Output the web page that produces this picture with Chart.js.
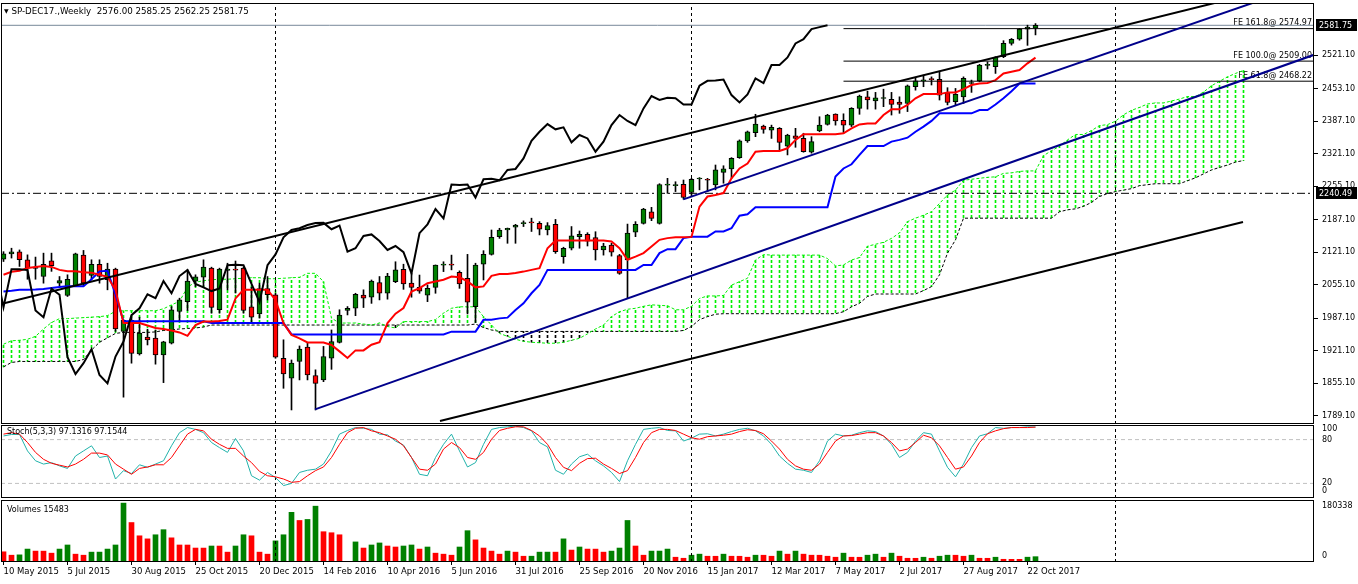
<!DOCTYPE html>
<html>
<head>
<meta charset="utf-8">
<title>SP-DEC17 Weekly</title>
<script src="https://cdn.jsdelivr.net/npm/chart.js@4.4.1/dist/chart.umd.min.js"></script>
<style>
  html, body { margin:0; padding:0; background:#fff; }
  #wrap { position:relative; width:1358px; height:584px; overflow:hidden; background:#fff; }
  #wrap canvas { position:absolute; left:0; }
  .ttl { position:absolute; font-family:'DejaVu Sans', sans-serif; font-size:8px; line-height:10px; color:#000; white-space:pre; }
</style>
</head>
<body>
<div id="wrap">
  <canvas id="cMain" width="1358" height="425" style="top:0px"></canvas>
  <canvas id="cStoch" width="1358" height="75" style="top:424px"></canvas>
  <canvas id="cVol" width="1358" height="85" style="top:499px"></canvas>
  <div class="ttl" id="tMain" style="left:4px;top:6px;font-size:8.7px"></div>
  <div class="ttl" id="tStoch" style="left:7px;top:427px"></div>
  <div class="ttl" id="tVol" style="left:7px;top:505px"></div>
</div>
<script>
// ---------------- DATA (weekly bars, index 0 = week of 10 May 2015) ----------------
const symbolName = 'SP-DEC17.,Weekly';
const dateLabels = ['10 May 2015','5 Jul 2015','30 Aug 2015','25 Oct 2015','20 Dec 2015','14 Feb 2016','10 Apr 2016','5 Jun 2016','31 Jul 2016','25 Sep 2016','20 Nov 2016','15 Jan 2017','12 Mar 2017','7 May 2017','2 Jul 2017','27 Aug 2017','22 Oct 2017'];
const dateTickIdx = [0,8,16,24,32,40,48,56,64,72,80,88,96,104,112,120,128];
const yearSepIdx = [34,86,139];
const priceTicks = [2521.10,2453.10,2387.10,2321.10,2255.10,2187.10,2121.10,2055.10,1987.10,1921.10,1855.10,1789.10];

const opens = [
2107,2117.5,2121.5,2105.5,2088,2071.5,2103.5,2058,2033,2052.5,
2115,2073.5,2096.5,2065,2086.5,1960,1982.5,1914.5,1948.5,1946.5,
1912.5,1936,2000.5,2020.5,2062,2070,2088.5,2004,2084,2086.5,
2088.5,2010,1995.5,2047,2034.5,1905.5,1865,1899,1928,1870.5,
1861.5,1905.5,1937.5,2002.5,2007,2034,2029.5,2059,2037.5,2061,
2086,2058,2049.5,2033.5,2049.5,2094.5,2095.5,2080,2068,2010.5,
2096.5,2116.5,2152.5,2166,2171.5,2179,2181,2179.5,2166,2177.5,
2112,2129,2152.5,2157,2150.5,2125.5,2135.5,2114,2105,2161.5,
2179.5,2203,2179.5,2257,2256,2259,2242.5,2269.5,2267.5,2257.5,
2283,2290,2313,2347,2363.5,2377,2369,2372.5,2336.5,2357.5,
2352,2324,2367,2380.5,2401.5,2388.5,2379,2413,2436.5,2428,
2433,2431.5,2426,2423,2457,2469,2472,2472,2445,2426.5,
2436.5,2463.5,2469,2500.5,2497.5,2518,2545,2553.5,2574,2576];
const highs = [
2122,2129,2125.5,2115.5,2111,2119,2119,2071.5,2075,2119,
2124.5,2105.5,2105.5,2098.5,2088.5,1984,1990.5,1989,1964.5,1963,
1940,2010.5,2027.5,2085,2075,2105.5,2090.5,2088.5,2098.5,2103,
2090.5,2050,2058,2071.5,2037.5,1943,1902,1930.5,1937.5,1882,
1929.5,1963,2004,2010.5,2037.5,2044.5,2064.5,2071.5,2078,2101.5,
2096.5,2078,2074.5,2054.5,2095,2101.5,2115,2083,2116.5,2098.5,
2124,2166,2169.5,2170,2177.5,2184.5,2190,2183,2181,2187.5,
2131,2173,2164,2160.5,2162.5,2139,2139,2116.5,2178,2183,
2210,2212,2260,2271,2264,2267.5,2271,2272.5,2271,2298,
2296.5,2313,2349,2367,2401,2379,2379,2374,2360.5,2372.5,
2362.5,2355.5,2396,2401,2402,2402,2414.5,2440,2448,2445.5,
2452,2445.5,2436.5,2460.5,2475,2480.5,2477,2488.5,2455,2453.5,
2477,2470.5,2502.5,2507.5,2518,2550.5,2555,2575.5,2582,2585.25];
const lows = [
2102,2109,2092,2066,2066,2058,2082,2052.5,2031,2051.5,
2052.5,2065,2058,2044.5,1960,1826.5,1895.5,1912,1932.5,1893.5,
1856,1934.5,1980,2002.5,2051,2051,1997,1997,2044.5,2038,
1997,1976,1987,2024,1905.5,1844.5,1800.5,1861.5,1861.5,1800.5,
1858,1883,1936.5,1993.5,1992,2008.5,2017,2024,2025.5,2059,
2045.5,2029.5,2037.5,2020.5,2037.5,2081.5,2085,2047.5,1995.5,1978,
2064.5,2115,2149,2139,2139,2173,2163,2156,2156,2118.5,
2098.5,2125.5,2129,2133.5,2105,2115,2113,2076,2027.5,2152.5,
2178,2185,2178,2240.5,2244,2228.5,2234,2247.5,2244,2247.5,
2261,2271,2311.5,2344,2355.5,2362.5,2352,2328.5,2318.5,2334,
2324,2322,2365.5,2379,2379,2362.5,2376,2401,2411.5,2411.5,
2416.5,2399.5,2403,2406.5,2450,2457,2460.5,2430,2420,2420,
2423,2445.5,2467,2493,2484,2516,2541.5,2551.5,2541,2562.25];
const closes = [
2117.5,2121.5,2105.5,2088.5,2090.5,2096.5,2093.5,2063.5,2066,2117.5,
2058,2096.5,2071.5,2086.5,1965,1982.5,1915.5,1956.5,1943,1912.5,
1939,2004,2024,2062.5,2071,2090.5,2009,2086.5,2086.5,2084.5,
2002.5,1989,2047,2034.5,1907.5,1873.5,1895.5,1924,1871.5,1854.5,
1909,1939.5,1993,2007,2035.5,2027.5,2062.5,2037.5,2072.5,2085,
2056.5,2049.5,2042,2047.5,2094.5,2095.5,2094.5,2056.5,2019.5,2094.5,
2116.5,2151,2166,2169.5,2176,2180,2180.5,2167.5,2175,2122,
2129,2154,2157,2143.5,2125.5,2133.5,2121,2078,2159.5,2177.5,
2208.5,2189.5,2258.5,2257.5,2258.5,2232,2269,2270,2267,2288,
2290,2311.5,2347,2365.5,2381,2370.5,2374.5,2344,2359,2352,
2325,2345.5,2379,2399.5,2387.5,2379,2413,2438,2430,2434.5,
2433.5,2421,2421,2459,2469,2469.5,2471.5,2440,2425,2441.5,
2474,2464.5,2501,2501,2516.5,2545,2553.5,2574,2578,2581.75];

// Ichimoku lines
const tenkan = [
2075,2081,2083,2089,2091,2093,2091,2085,2082,2082,
2080,2079,2075,2071,2044,1977,1977,1977,1972,1967,
1965,1962,1958,1951,1973,1980,1980,1981,1984,2027,
2044.5,2044.5,2044.5,2044.5,2024,1976.5,1953,1946,1937.5,1937.5,
1937.5,1932.5,1919.5,1906,1921.5,1921.5,1933,1938,1977,1996,
2007.5,2041,2048,2058,2061.5,2065,2071.5,2070,2061.5,2049.5,
2051.5,2073,2076.5,2076.5,2078.5,2081.5,2085,2088.5,2129,2144.5,
2144.5,2144.5,2144.5,2144.5,2144.5,2144.5,2142.5,2129,2105.5,2112,
2119,2132.5,2146,2149.5,2151.5,2151.5,2152,2213.5,2234,2237,
2241,2271,2291,2301,2325,2326.5,2326.5,2326.5,2332,2349,
2360.5,2360.5,2360.5,2360.5,2360.5,2362.5,2372.5,2380.5,2382.5,2382.5,
2399.5,2411,2411,2420,2433.5,2442,2442,2442,2445.5,2445.5,
2452,2460.5,2463.5,2464.5,2470.5,2484,2487.5,2491,2504.5,2516];
const kijun = [
2041,2042.5,2044.5,2044.5,2045,2046,2048,2050,2051.5,2051.5,
2051.5,2066,2082,2083,2035,1980.5,1980.5,1980.5,1980.5,1980.5,
1980.5,1980.5,1980.5,1980.5,1980.5,1980.5,1977,1977,1977,1977,
1977,1977,1977,1977,1977,1977,1954,1954,1954,1954,
1954,1954,1954,1954,1954,1954,1954,1954,1954,1954,
1954,1954,1954,1954,1954,1954,1959.5,1959.5,1959.5,1959.5,
1983.5,1983.5,1986.5,1988,2003.5,2017,2037.5,2054.5,2085,2085,
2085,2085,2085,2085,2085,2085,2085,2085,2085,2085,
2095,2095,2119,2127,2127,2149.5,2152.5,2152.5,2152.5,2163,
2163,2169.5,2195,2198,2212,2212,2212,2212,2212,2212,
2212,2212,2212,2212,2274.5,2291,2299.5,2318.5,2336.5,2336.5,
2336.5,2345.5,2349,2353.5,2365.5,2376,2387.5,2403,2403,2403,
2403,2403,2409.5,2409.5,2421,2433.5,2448,2463.5,2463.5,2463.5];
// Senkou spans as plotted (index 0..155, cloud runs 26 bars past the last candle)
const senkouA = [
1934,1941,1942,1944,1950,1965,1978,1986,1986,1987,
1988,1989,1990,1992,2001,2002,2002,2002,2002,2002,
2006,2014,2021,2050,2060,2063,2065,2066,2066,2067,
2068,2069,2069,2067,2067,2068,2069,2070,2078,2078,
2061,1987,1977,1977,1977,1975,1973,1977,1970,1967,
1980,1980,1980,1980,1984,1997,2007,2010,2010,2010,
1990,1973,1956,1950,1944,1940,1938,1937,1936,1936,
1938,1942,1946,1955,1965,1973,1990,2000,2005,2007,
2011,2014,2013,2012,2004,2004,2011,2027,2032,2032,
2033,2054,2061,2068,2105,2116,2115,2115,2115,2115,
2115,2115,2115,2108,2093,2095,2105,2110,2133,2137,
2141,2149,2160,2183,2190,2196,2203,2220,2237,2247,
2267,2269,2271,2273,2274,2281,2282,2285,2286,2286,
2317,2327,2336,2349,2360,2360,2368,2378,2380,2387,
2400,2409,2415,2422,2424,2424,2428,2432,2437,2437,
2446,2459,2468,2477,2484,2490];
const senkouB = [
1888,1897,1899,1899,1899,1899,1899,1899,1899,1899,
1903,1922,1938,1947,1956,1958,1958,1958,1958,1959,
1962,1963,1965,1966,1967,1969,1973,1973,1973,1973,
1973,1973,1973,1973,1973,1973,1973,1973,1973,1973,
1973,1973,1973,1973,1973,1973,1973,1973,1973,1973,
1973,1973,1973,1973,1973,1973,1973,1973,1973,1975,
1968,1963,1960,1960,1960,1960,1960,1960,1960,1960,
1960,1960,1960,1960,1960,1960,1960,1960,1960,1960,
1960,1960,1960,1960,1960,1962,1970,1984,1990,1995,
1996,1996,1996,1996,1996,1996,1996,1996,1996,1996,
1996,1996,1996,1996,1996,2000,2010,2017,2031,2036,
2036,2036,2036,2036,2036,2043,2051,2075,2119,2146,
2190,2190,2190,2190,2190,2190,2190,2190,2190,2190,
2190,2190,2203,2207,2209,2214,2222,2234,2240,2244,
2247,2250,2256,2258,2260,2260,2260,2260,2266,2272,
2280,2288,2293,2298,2304,2307];
const chikouShift = 26;

// Drawn objects: trend lines [index, price] end points, Fibonacci expansion, horizontal line
const trendBlackUpper = [[-0.3125, 2015.7], [163.8125, 2677.1]];
const trendBlackLower = [[54.56, 1778.1], [154.94, 2182.2]];
const trendBlueLower  = [[38.94, 1801.6], [163.8125, 2521.8]];
const trendBlueUpper  = [[84.98, 2228.3], [163.8125, 2670.1]];
const fibLevels = [161.8, 100.0, 61.8];
const fibPrices = [2574.97, 2509.00, 2468.22];
const fibStartIdx = 105;
const hLinePrice = 2240.49;

// Stochastic(5,3,3)
const stochK = [
85,87,87,64.5,51,46.5,48.5,44,40.5,57.5,
64.5,71.5,55.5,57.5,26,37.5,33.5,45.5,42,46.5,
51,71.5,89.5,96.5,94,89.5,76,69,62.5,81.5,
64.5,30.5,24.5,35,28,17,20,35,38,39.5,
46.5,64.5,87.5,92.5,96.5,95.5,94,87.5,86.5,78,
72.5,55.5,32.5,30.5,55.5,73.5,87.5,64.5,42.5,48.5,
73.5,94,96.5,97.5,98.5,96.5,92,76,70,38,
32.5,46.5,56.5,60,51,44,35,22.5,51,73.5,
94,95.5,96.5,92.5,92,78,82,87.5,88,85,
87.5,91,94,95.5,92,85,73.5,57.5,47.5,39.5,
38,35,51,78,87.5,85,86,89.5,92,91,
85,73.5,55.5,62.5,78,89.5,87.5,64.5,42,29,
46.5,69,85,88,96.5,95.5,96.5,96.5,97.5,97.1316];
const stochD = [
87.5,89.5,87.5,76,62.5,53,47.5,45,42.5,46.5,
53,61.5,61.5,59,46.5,39.5,32.5,40.5,42.5,45.5,
45.5,55.5,71.5,87.5,94,92,80.5,73.5,68,68,
57.5,48.5,36.5,30.5,29,26,21.5,22.5,30.5,37.5,
42.5,55.5,73.5,89.5,95.5,96.5,92,89.5,85,80.5,
71.5,55.5,39.5,38,46.5,67,76,69,55.5,53,
62.5,80.5,92.5,95.5,97.5,97.5,92.5,85,73.5,55.5,
42,37.5,47.5,54,54.5,46.5,40.5,33.5,37.5,55.5,
76,89.5,94,94,92.5,87.5,82.5,80.5,84,85,
86,87.5,91,93.5,92.5,88,78,67,53,44,
39.5,38,46.5,62.5,78,85,85.5,87.5,89.5,89.5,
85,76,64.5,67,76,86,82.5,71.5,55.5,39.5,
42.5,57.5,76,88,92,95,96.5,96.5,96.5,97.1544];
const stochLevels = [80, 20];
const stochTickPos = [94, 80, 20, 10];
const stochTickText = ['100', '80', '20', '0'];

// Volumes
const volumes = [
29700,19800,20800,37600,31700,31600,25700,37600,49500,22800,
19800,28700,28800,37600,49500,171300,114800,76200,67300,79200,
94000,70300,49500,49400,40600,40500,46500,46400,28700,46500,
79200,76200,28700,22800,61400,79200,144500,120800,123800,162400,
88100,85100,79200,1500,58400,40600,49500,55400,46500,43600,
46500,49500,37600,43600,25700,22800,19800,43600,91100,64400,
40600,31700,22800,31700,28700,16800,16900,28700,28800,28700,
67300,34700,43600,37600,37500,28700,31700,40600,120800,46500,
19800,31700,31800,37600,13900,10900,19800,22800,16800,16700,
22800,16800,16700,13900,19800,19700,16800,31700,22800,31700,
22800,19800,19700,16800,13900,25700,13900,13800,19800,22800,
13900,25700,16800,10900,10800,13900,10900,16800,19800,19700,
16800,19800,10900,10800,13900,7900,7800,7700,14000,15483];
const volMax = 180338;
const volTickPos = [162886, 17452];
const volTickText = ['180338', '0'];

// ---------------- VIEW SETTINGS ----------------
const xMin = -0.3125, xMax = 163.8125;     // visible bar range
const yMin = 1771.98, yMax = 2627.04;      // visible price range
const GREEN = '#008000', RED = '#FF0000', NAVY = '#00008B', LIME = '#00F000';
const FONT = "'DejaVu Sans', sans-serif";
Chart.defaults.font.family = FONT;
Chart.defaults.font.size = 8;
Chart.defaults.color = '#000';

// ---------------- HELPERS ----------------
function pts(pairs) { return pairs.map(p => ({x: p[0], y: p[1]})); }
function lineDs(data, color, width, order, dash) {
  return { type: 'line', data, borderColor: color, backgroundColor: color, borderWidth: width,
           borderDash: dash || [], pointRadius: 0, pointHoverRadius: 0, fill: false,
           tension: 0, order, spanGaps: true };
}
function sepDatasets(lo, hi, order) {
  return yearSepIdx.map(s => lineDs([{x: s, y: lo}, {x: s, y: hi}], '#000', 1, order, [3, 3]));
}
function makePattern(color) {
  const c = document.createElement('canvas'); c.width = 1; c.height = 5;
  const g = c.getContext('2d'); g.fillStyle = color; g.fillRect(0, 0, 1, 3);
  return g.createPattern(c, 'repeat');
}
function noPad(s) { s.paddingTop = 0; s.paddingBottom = 0; s.paddingLeft = 0; s.paddingRight = 0; }
const panelBox = {
  id: 'panelBox',
  afterDraw(chart) {
    const a = chart.chartArea, ctx = chart.ctx;
    ctx.save(); ctx.strokeStyle = '#000'; ctx.lineWidth = 1;
    ctx.strokeRect(a.left + 0.5, a.top + 0.5, a.right - a.left - 1, a.bottom - a.top - 1);
    ctx.restore();
  }
};
function yRight(extra) {
  return Object.assign({
    position: 'right', afterFit(s) { s.width = 44; noPad(s); },
    border: { display: false },
  }, extra);
}
const xHidden = { type: 'linear', min: xMin, max: xMax, offset: false, display: false };
function baseOptions(padding, scales) {
  return { responsive: false, animation: false, events: [], layout: { padding },
           plugins: { legend: { display: false }, tooltip: { enabled: false } }, scales };
}

// ---------------- MAIN PRICE CHART ----------------
const idx = opens.map((_, i) => i);
const wickData = idx.map(i => ({x: i, y: [lows[i], highs[i]]}));
const bodyData = idx.map(i => ({x: i, y: [opens[i], closes[i]]}));
const bodyColors = idx.map(i => closes[i] >= opens[i] ? GREEN : RED);
const cloudIdx = senkouA.map((_, i) => i);
const hatchData = cloudIdx.map(i => ({x: i, y: [senkouB[i], senkouA[i]]}));
const patGreen = makePattern(LIME), patBlack = makePattern('#000');
const hatchColors = cloudIdx.map(i => senkouA[i] >= senkouB[i] ? patGreen : patBlack);
const chikouData = closes.map((c, k) => ({x: k - chikouShift, y: c}));
const lastClose = closes[closes.length - 1];

const fibLabelPlugin = {
  id: 'fibLabels',
  beforeDatasetsDraw(chart) {
    const ctx = chart.ctx, y = chart.scales.y, a = chart.chartArea;
    ctx.save(); ctx.font = '8px ' + FONT; ctx.fillStyle = '#000';
    ctx.textAlign = 'right'; ctx.textBaseline = 'middle';
    fibLevels.forEach((lv, k) => {
      const py = y.getPixelForValue(fibPrices[k]);
      ctx.fillText('FE ' + lv.toFixed(1) + '@ ' + fibPrices[k].toFixed(2), a.right - 2, py - 5.5);
    });
    ctx.restore();
  }
};
const priceTagPlugin = {
  id: 'priceTags',
  afterDraw(chart) {
    const ctx = chart.ctx, y = chart.scales.y, a = chart.chartArea;
    ctx.save(); ctx.font = '8px ' + FONT; ctx.textBaseline = 'middle'; ctx.textAlign = 'left';
    [lastClose, hLinePrice].forEach(v => {
      const py = Math.round(y.getPixelForValue(v));
      ctx.fillStyle = '#000'; ctx.fillRect(a.right + 2, py - 6, 41, 12);
      ctx.fillStyle = '#fff'; ctx.fillText(v.toFixed(2), a.right + 5, py + 0.5);
    });
    ctx.restore();
  }
};

const mainDatasets = [
  lineDs(pts(trendBlackUpper), '#000', 2, 1),
  lineDs(pts(trendBlackLower), '#000', 2, 1),
  lineDs(pts(trendBlueLower), NAVY, 2, 1),
  lineDs(pts(trendBlueUpper), NAVY, 2, 1),
  ...fibPrices.map(p => lineDs([{x: fibStartIdx, y: p}, {x: xMax, y: p}], '#000', 1, 2)),
  lineDs(chikouData, '#000', 2, 3),
  lineDs(tenkan.map((v, i) => ({x: i, y: v})), RED, 2, 4),
  lineDs(kijun.map((v, i) => ({x: i, y: v})), '#0000FF', 2, 5),
  { type: 'bar', data: bodyData, backgroundColor: bodyColors, borderColor: '#000', borderWidth: 1,
    borderSkipped: false, barThickness: 5, minBarLength: 1, grouped: false, order: 6 },
  { type: 'bar', data: wickData, backgroundColor: '#000', borderWidth: 0,
    barThickness: 1, grouped: false, order: 7 },
  lineDs([{x: xMin, y: lastClose}, {x: xMax, y: lastClose}], '#778899', 1, 8),
  lineDs([{x: xMin, y: hLinePrice}, {x: xMax, y: hLinePrice}], '#000', 1, 9, [8, 3, 2, 3]),
  ...sepDatasets(yMin, yMax, 10),
  lineDs(senkouA.map((v, i) => ({x: i, y: v})), LIME, 1, 11, [3, 2]),
  lineDs(senkouB.map((v, i) => ({x: i, y: v})), '#000', 1, 12, [3, 2]),
  { type: 'bar', data: hatchData, backgroundColor: hatchColors, borderWidth: 0,
    barThickness: 1, grouped: false, order: 13 }
];

new Chart(document.getElementById('cMain'), {
  type: 'bar',
  data: { datasets: mainDatasets },
  options: baseOptions({left: 1, right: 0, top: 3, bottom: 1}, {
    x: xHidden,
    y: yRight({
      min: yMin, max: yMax,
      afterBuildTicks(s) { s.ticks = priceTicks.map(v => ({value: v})); },
      ticks: { autoSkip: false, padding: 4, callback: v => Number(v).toFixed(2), font: {size: 8} },
      grid: { drawOnChartArea: false, drawTicks: true, tickLength: 4, color: '#000' }
    })
  }),
  plugins: [fibLabelPlugin, panelBox, priceTagPlugin]
});

// ---------------- STOCHASTIC ----------------
new Chart(document.getElementById('cStoch'), {
  type: 'line',
  data: { datasets: [
    lineDs(stochD.map((v, i) => ({x: i, y: v})), RED, 1, 1),
    lineDs(stochK.map((v, i) => ({x: i, y: v})), '#20B2AA', 1, 2),
    ...stochLevels.map(l => lineDs([{x: xMin, y: l}, {x: xMax, y: l}], '#C0C0C0', 1, 4, [4, 3])),
    ...sepDatasets(0, 100, 3)
  ]},
  options: baseOptions({left: 1, right: 0, top: 1, bottom: 1}, {
    x: xHidden,
    y: yRight({
      min: 0, max: 100,
      afterBuildTicks(s) { s.ticks = stochTickPos.map(v => ({value: v})); },
      ticks: { autoSkip: false, padding: 8, callback: (v, i) => stochTickText[i], font: {size: 8} },
      grid: { drawOnChartArea: false, drawTicks: false }
    })
  }),
  plugins: [panelBox]
});

// ---------------- VOLUMES ----------------
const volColors = volumes.map((v, i) => (i > 0 && v > volumes[i - 1]) ? GREEN : RED);
new Chart(document.getElementById('cVol'), {
  type: 'bar',
  data: { datasets: [
    { type: 'bar', data: volumes.map((v, i) => ({x: i, y: v})), backgroundColor: volColors,
      borderWidth: 0, barThickness: 5, grouped: false, order: 2 },
    ...sepDatasets(0, volMax, 1)
  ]},
  options: baseOptions({left: 1, right: 0, top: 1, bottom: 0}, {
    x: {
      type: 'linear', min: xMin, max: xMax, offset: false, position: 'bottom',
      afterFit(s) { s.height = 22; noPad(s); },
      afterBuildTicks(s) { s.ticks = dateTickIdx.map(v => ({value: v})); },
      ticks: { autoSkip: false, maxRotation: 0, minRotation: 0, align: 'start', padding: 2,
               callback: (v, i) => dateLabels[i], font: {size: 8.5} },
      grid: { drawOnChartArea: false, drawTicks: true, tickLength: 3, color: '#000', offset: false },
      border: { display: false }
    },
    y: yRight({
      min: 0, max: volMax,
      afterBuildTicks(s) { s.ticks = volTickPos.map(v => ({value: v})); },
      ticks: { autoSkip: false, padding: 8, callback: (v, i) => volTickText[i], font: {size: 8} },
      grid: { drawOnChartArea: false, drawTicks: false }
    })
  }),
  plugins: [panelBox]
});

// ---------------- PANEL TITLES ----------------
const n = closes.length - 1;
document.getElementById('tMain').innerHTML =
  '<span style="font-size:6px;position:relative;top:-1px">\u25BC</span> ' + symbolName + '  ' +
  [opens[n], highs[n], lows[n], closes[n]].map(v => v.toFixed(2)).join(' ');
document.getElementById('tStoch').textContent =
  'Stoch(5,3,3) ' + stochK[n].toFixed(4) + ' ' + stochD[n].toFixed(4);
document.getElementById('tVol').textContent = 'Volumes ' + volumes[n];
</script>
</body>
</html>
